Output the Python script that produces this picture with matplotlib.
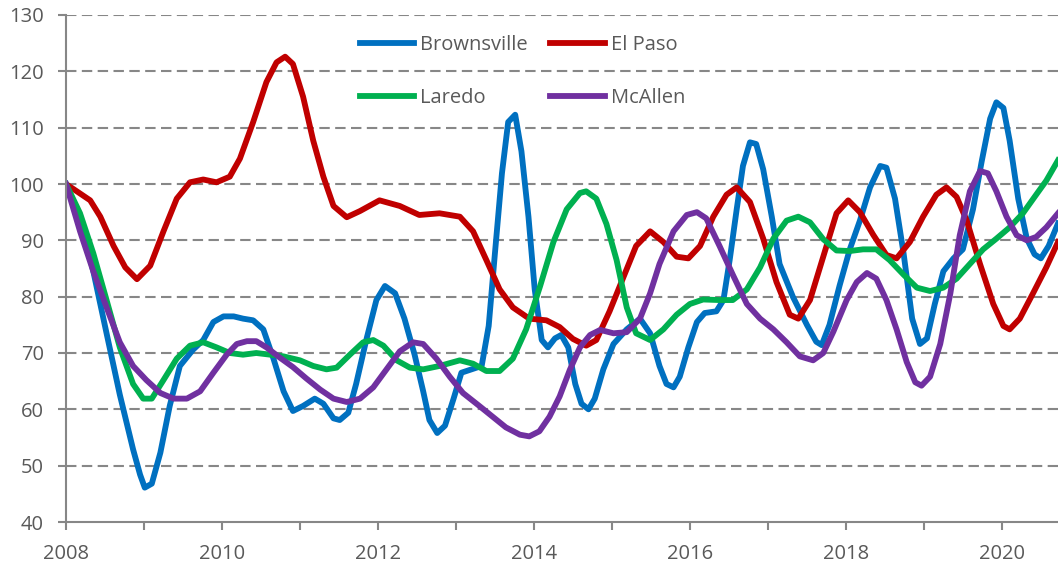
import matplotlib
matplotlib.use("Agg")
import matplotlib.pyplot as plt
import numpy as np

# values (index, 2008 = 100)
brownsville_x = [2008.0, 2008.18, 2008.35, 2008.52, 2008.69, 2008.86, 2008.95, 2009.01, 2009.1, 2009.21,
                 2009.33, 2009.46, 2009.63, 2009.76, 2009.89, 2010.02, 2010.15, 2010.27, 2010.4, 2010.53,
                 2010.66, 2010.79, 2010.91, 2011.04, 2011.19, 2011.3, 2011.43, 2011.51, 2011.62, 2011.72,
                 2011.85, 2011.98, 2012.09, 2012.22, 2012.34, 2012.47, 2012.58, 2012.66, 2012.76, 2012.86,
                 2012.97, 2013.07, 2013.2, 2013.33, 2013.42, 2013.5, 2013.59, 2013.67, 2013.76, 2013.84,
                 2013.93, 2014.01, 2014.1, 2014.18, 2014.27, 2014.35, 2014.44, 2014.53, 2014.61, 2014.7,
                 2014.78, 2014.89, 2015.02, 2015.19, 2015.36, 2015.49, 2015.61, 2015.7, 2015.79, 2015.87,
                 2015.98, 2016.09, 2016.19, 2016.34, 2016.43, 2016.51, 2016.6, 2016.68, 2016.77, 2016.85,
                 2016.94, 2017.05, 2017.15, 2017.32, 2017.5, 2017.62, 2017.69, 2017.79, 2017.92, 2018.05,
                 2018.18, 2018.31, 2018.44, 2018.52, 2018.63, 2018.74, 2018.85, 2018.95, 2019.04, 2019.14,
                 2019.25, 2019.38, 2019.5, 2019.63, 2019.74, 2019.85, 2019.93, 2020.02, 2020.1, 2020.21,
                 2020.32, 2020.42, 2020.5, 2020.6, 2020.72]
brownsville = [100, 94.2, 84.5, 73.5, 62.6, 52.9, 48.4, 46.1, 46.8, 52.3,
               60.6, 67.7, 70.6, 72.3, 75.5, 76.5, 76.5, 76.1, 75.8, 74.2,
               69, 63.2, 59.7, 60.6, 61.9, 61, 58.4, 58.1, 59.4, 64.5,
               72.3, 79.4, 81.9, 80.6, 76.1, 69.7, 63.2, 58.1, 55.8, 57.1,
               61.9, 66.5, 67.1, 67.7, 74.8, 87.7, 101.9, 111, 112.3, 105.8,
               94.2, 81.3, 72.3, 71, 72.6, 73.2, 71, 64.5, 61, 60,
               61.9, 67.1, 71.6, 74.2, 76.1, 73.5, 67.7, 64.5, 63.9, 65.8,
               71, 75.5, 77.1, 77.4, 79.4, 86.5, 95.5, 103.2, 107.4, 107.1,
               102.6, 94.2, 85.8, 80, 75, 72, 71.4, 75, 82, 88.4,
               93.5, 99.4, 103.2, 102.9, 97.4, 87.7, 76.1, 71.6, 72.6, 78.7,
               84.5, 86.8, 88.4, 95.5, 103.9, 111.6, 114.5, 113.5, 107.7, 97.4,
               90.3, 87.5, 86.8, 89, 93]

elpaso_x = [2008.0, 2008.31, 2008.44, 2008.61, 2008.76, 2008.91, 2009.08, 2009.25, 2009.42, 2009.59,
            2009.76, 2009.93, 2010.1, 2010.23, 2010.4, 2010.57, 2010.7, 2010.81, 2010.91, 2011.04,
            2011.17, 2011.3, 2011.43, 2011.6, 2011.77, 2012.02, 2012.28, 2012.53, 2012.79, 2013.05,
            2013.22, 2013.39, 2013.56, 2013.73, 2013.94, 2014.16, 2014.33, 2014.5, 2014.67, 2014.8,
            2014.97, 2015.14, 2015.31, 2015.49, 2015.66, 2015.83, 2015.98, 2016.13, 2016.3, 2016.47,
            2016.6, 2016.77, 2016.94, 2017.11, 2017.28, 2017.39, 2017.54, 2017.71, 2017.88, 2018.03,
            2018.18, 2018.35, 2018.52, 2018.65, 2018.82, 2018.99, 2019.16, 2019.29, 2019.42, 2019.55,
            2019.72, 2019.89, 2020.02, 2020.1, 2020.23, 2020.4, 2020.57, 2020.72]
elpaso = [100, 97.1, 94.2, 89, 85.2, 83.1, 85.5, 91.6, 97.4, 100.3,
          100.8, 100.3, 101.3, 104.5, 111, 118.1, 121.6, 122.6, 121.3, 115.5,
          107.7, 101.3, 96.1, 94.1, 95.2, 97.1, 96.1, 94.5, 94.8, 94.2,
          91.6, 86.5, 81.3, 78.1, 76.1, 75.8, 74.6, 72.5, 71.3, 72.3,
          77.4, 83.2, 89, 91.6, 89.7, 87.1, 86.8, 89, 94.2, 98.1,
          99.4, 96.8, 90.3, 82.6, 76.8, 76.1, 79.4, 87.1, 94.8, 97.1,
          95, 91, 87.4, 86.8, 89.7, 94.2, 98.1, 99.4, 97.7, 93.5,
          85.8, 78.7, 74.8, 74.2, 76.1, 80.6, 85.2, 89.7]

laredo_x = [2008.0, 2008.18, 2008.35, 2008.52, 2008.69, 2008.86, 2008.99, 2009.1, 2009.25, 2009.42,
            2009.59, 2009.76, 2009.93, 2010.1, 2010.27, 2010.44, 2010.62, 2010.79, 2011.0, 2011.17,
            2011.34, 2011.47, 2011.64, 2011.81, 2011.94, 2012.07, 2012.24, 2012.41, 2012.58, 2012.79,
            2013.05, 2013.22, 2013.39, 2013.56, 2013.73, 2013.9, 2014.08, 2014.25, 2014.42, 2014.59,
            2014.67, 2014.8, 2014.93, 2015.06, 2015.19, 2015.31, 2015.49, 2015.66, 2015.83, 2016.0,
            2016.17, 2016.38, 2016.55, 2016.73, 2016.9, 2017.07, 2017.24, 2017.39, 2017.54, 2017.71,
            2017.88, 2018.05, 2018.22, 2018.39, 2018.56, 2018.74, 2018.91, 2019.08, 2019.25, 2019.42,
            2019.59, 2019.76, 2019.93, 2020.1, 2020.27, 2020.44, 2020.57, 2020.72]
laredo = [100, 94.8, 87.7, 79.4, 71, 64.5, 61.9, 61.9, 65.2, 69,
          71.3, 71.9, 71, 70, 69.7, 70, 69.7, 69.4, 68.7, 67.7,
          67.1, 67.4, 69.7, 71.9, 72.3, 71.3, 68.7, 67.4, 67.1, 67.7,
          68.7, 68.1, 66.8, 66.8, 69, 74.2, 81.9, 89.7, 95.5, 98.4,
          98.7, 97.4, 92.9, 86.5, 78.1, 73.5, 72.3, 74.2, 76.8, 78.7,
          79.5, 79.4, 79.4, 81.3, 85.2, 90.3, 93.5, 94.2, 93.2, 90.2,
          88.2, 88.1, 88.4, 88.4, 86.5, 83.9, 81.6, 81, 81.6, 83.2,
          85.8, 88.4, 90.3, 92.3, 94.8, 98.1, 100.6, 104.2]

mcallen_x = [2008.0, 2008.18, 2008.35, 2008.52, 2008.69, 2008.86, 2009.03, 2009.21, 2009.38, 2009.55,
             2009.72, 2009.89, 2010.06, 2010.19, 2010.32, 2010.44, 2010.57, 2010.74, 2010.91, 2011.08,
             2011.26, 2011.43, 2011.6, 2011.77, 2011.94, 2012.11, 2012.28, 2012.45, 2012.58, 2012.75,
             2012.92, 2013.09, 2013.3, 2013.47, 2013.64, 2013.82, 2013.94, 2014.07, 2014.2, 2014.33,
             2014.46, 2014.59, 2014.72, 2014.85, 2015.02, 2015.19, 2015.36, 2015.49, 2015.61, 2015.79,
             2015.96, 2016.09, 2016.21, 2016.38, 2016.55, 2016.73, 2016.9, 2017.07, 2017.24, 2017.41,
             2017.58, 2017.71, 2017.84, 2018.01, 2018.14, 2018.27, 2018.39, 2018.52, 2018.65, 2018.78,
             2018.89, 2018.97, 2019.08, 2019.21, 2019.34, 2019.46, 2019.59, 2019.72, 2019.82, 2019.93,
             2020.06, 2020.19, 2020.32, 2020.44, 2020.57, 2020.72]
mcallen = [100, 91.6, 84.5, 78.1, 71.9, 67.7, 65.2, 62.9, 61.9, 61.9,
           63.2, 66.5, 69.7, 71.6, 72.1, 72.1, 71, 69.2, 67.5, 65.5,
           63.5, 61.9, 61.3, 61.9, 63.9, 67.1, 70.3, 71.9, 71.6, 69,
           65.8, 62.9, 60.6, 58.7, 56.8, 55.5, 55.2, 56.1, 58.7, 62.3,
           67, 71, 73.2, 74.1, 73.5, 73.7, 76.1, 80.6, 85.8, 91.6,
           94.5, 95, 93.9, 89, 83.9, 78.7, 76.1, 74.2, 71.9, 69.4,
           68.7, 70, 73.8, 79.4, 82.6, 84.2, 83.2, 79.4, 74.2, 68.4,
           64.8, 64.2, 65.8, 71.6, 80.6, 90.9, 98.7, 102.3, 101.9, 98.7,
           94.2, 90.9, 90, 90.6, 92.3, 94.8]

year_ticks = [2008, 2010, 2012, 2014, 2016, 2018, 2020]

grey = "#595959"
axis_grey = "#878787"
plt.rcParams["font.family"] = ["Open Sans", "DejaVu Sans"]
plt.rcParams["font.size"] = 14.5

fig = plt.figure(figsize=(10.58, 5.69), dpi=100)
ax = fig.add_axes([66 / 1058, 47 / 569, 1 - 66 / 1058, 507 / 569])

lw = 4.2
l1, = ax.plot(brownsville_x, brownsville, color="#0070C0", lw=lw, label="Brownsville", solid_joinstyle="round")
l2, = ax.plot(elpaso_x, elpaso, color="#C00000", lw=lw, label="El Paso", solid_joinstyle="round")
l3, = ax.plot(laredo_x, laredo, color="#00B050", lw=lw, label="Laredo", solid_joinstyle="round")
l4, = ax.plot(mcallen_x, mcallen, color="#7030A0", lw=lw, label="McAllen", solid_joinstyle="round")

ax.set_xlim(2008, 2020.72)
ax.set_ylim(40, 130)
ax.set_yticks(np.arange(40, 131, 10))
ax.set_xticks(year_ticks)
ax.set_xticks(np.arange(2009, 2021, 2), minor=True)

for y in range(50, 131, 10):
    ax.axhline(y, color=axis_grey, lw=1.5, dashes=(5, 2.6), zorder=0)

for side in ["top", "right"]:
    ax.spines[side].set_visible(False)
for side in ["left", "bottom"]:
    ax.spines[side].set_color(axis_grey)
    ax.spines[side].set_linewidth(1.5)

ax.tick_params(which="both", direction="out", length=6, width=1.5, color=axis_grey,
               labelcolor=grey, pad=10)

leg = ax.legend(handles=[l1, l3, l2, l4], ncol=2, frameon=False, loc="upper left",
                bbox_to_anchor=(360 / 1058, 1 - 35 / 569), bbox_transform=fig.transFigure,
                handlelength=2.7, handletextpad=0.3, columnspacing=1.1, labelspacing=1.65,
                borderaxespad=0, borderpad=0)
for t in leg.get_texts():
    t.set_color(grey)

fig.savefig("out.png", dpi=100)
